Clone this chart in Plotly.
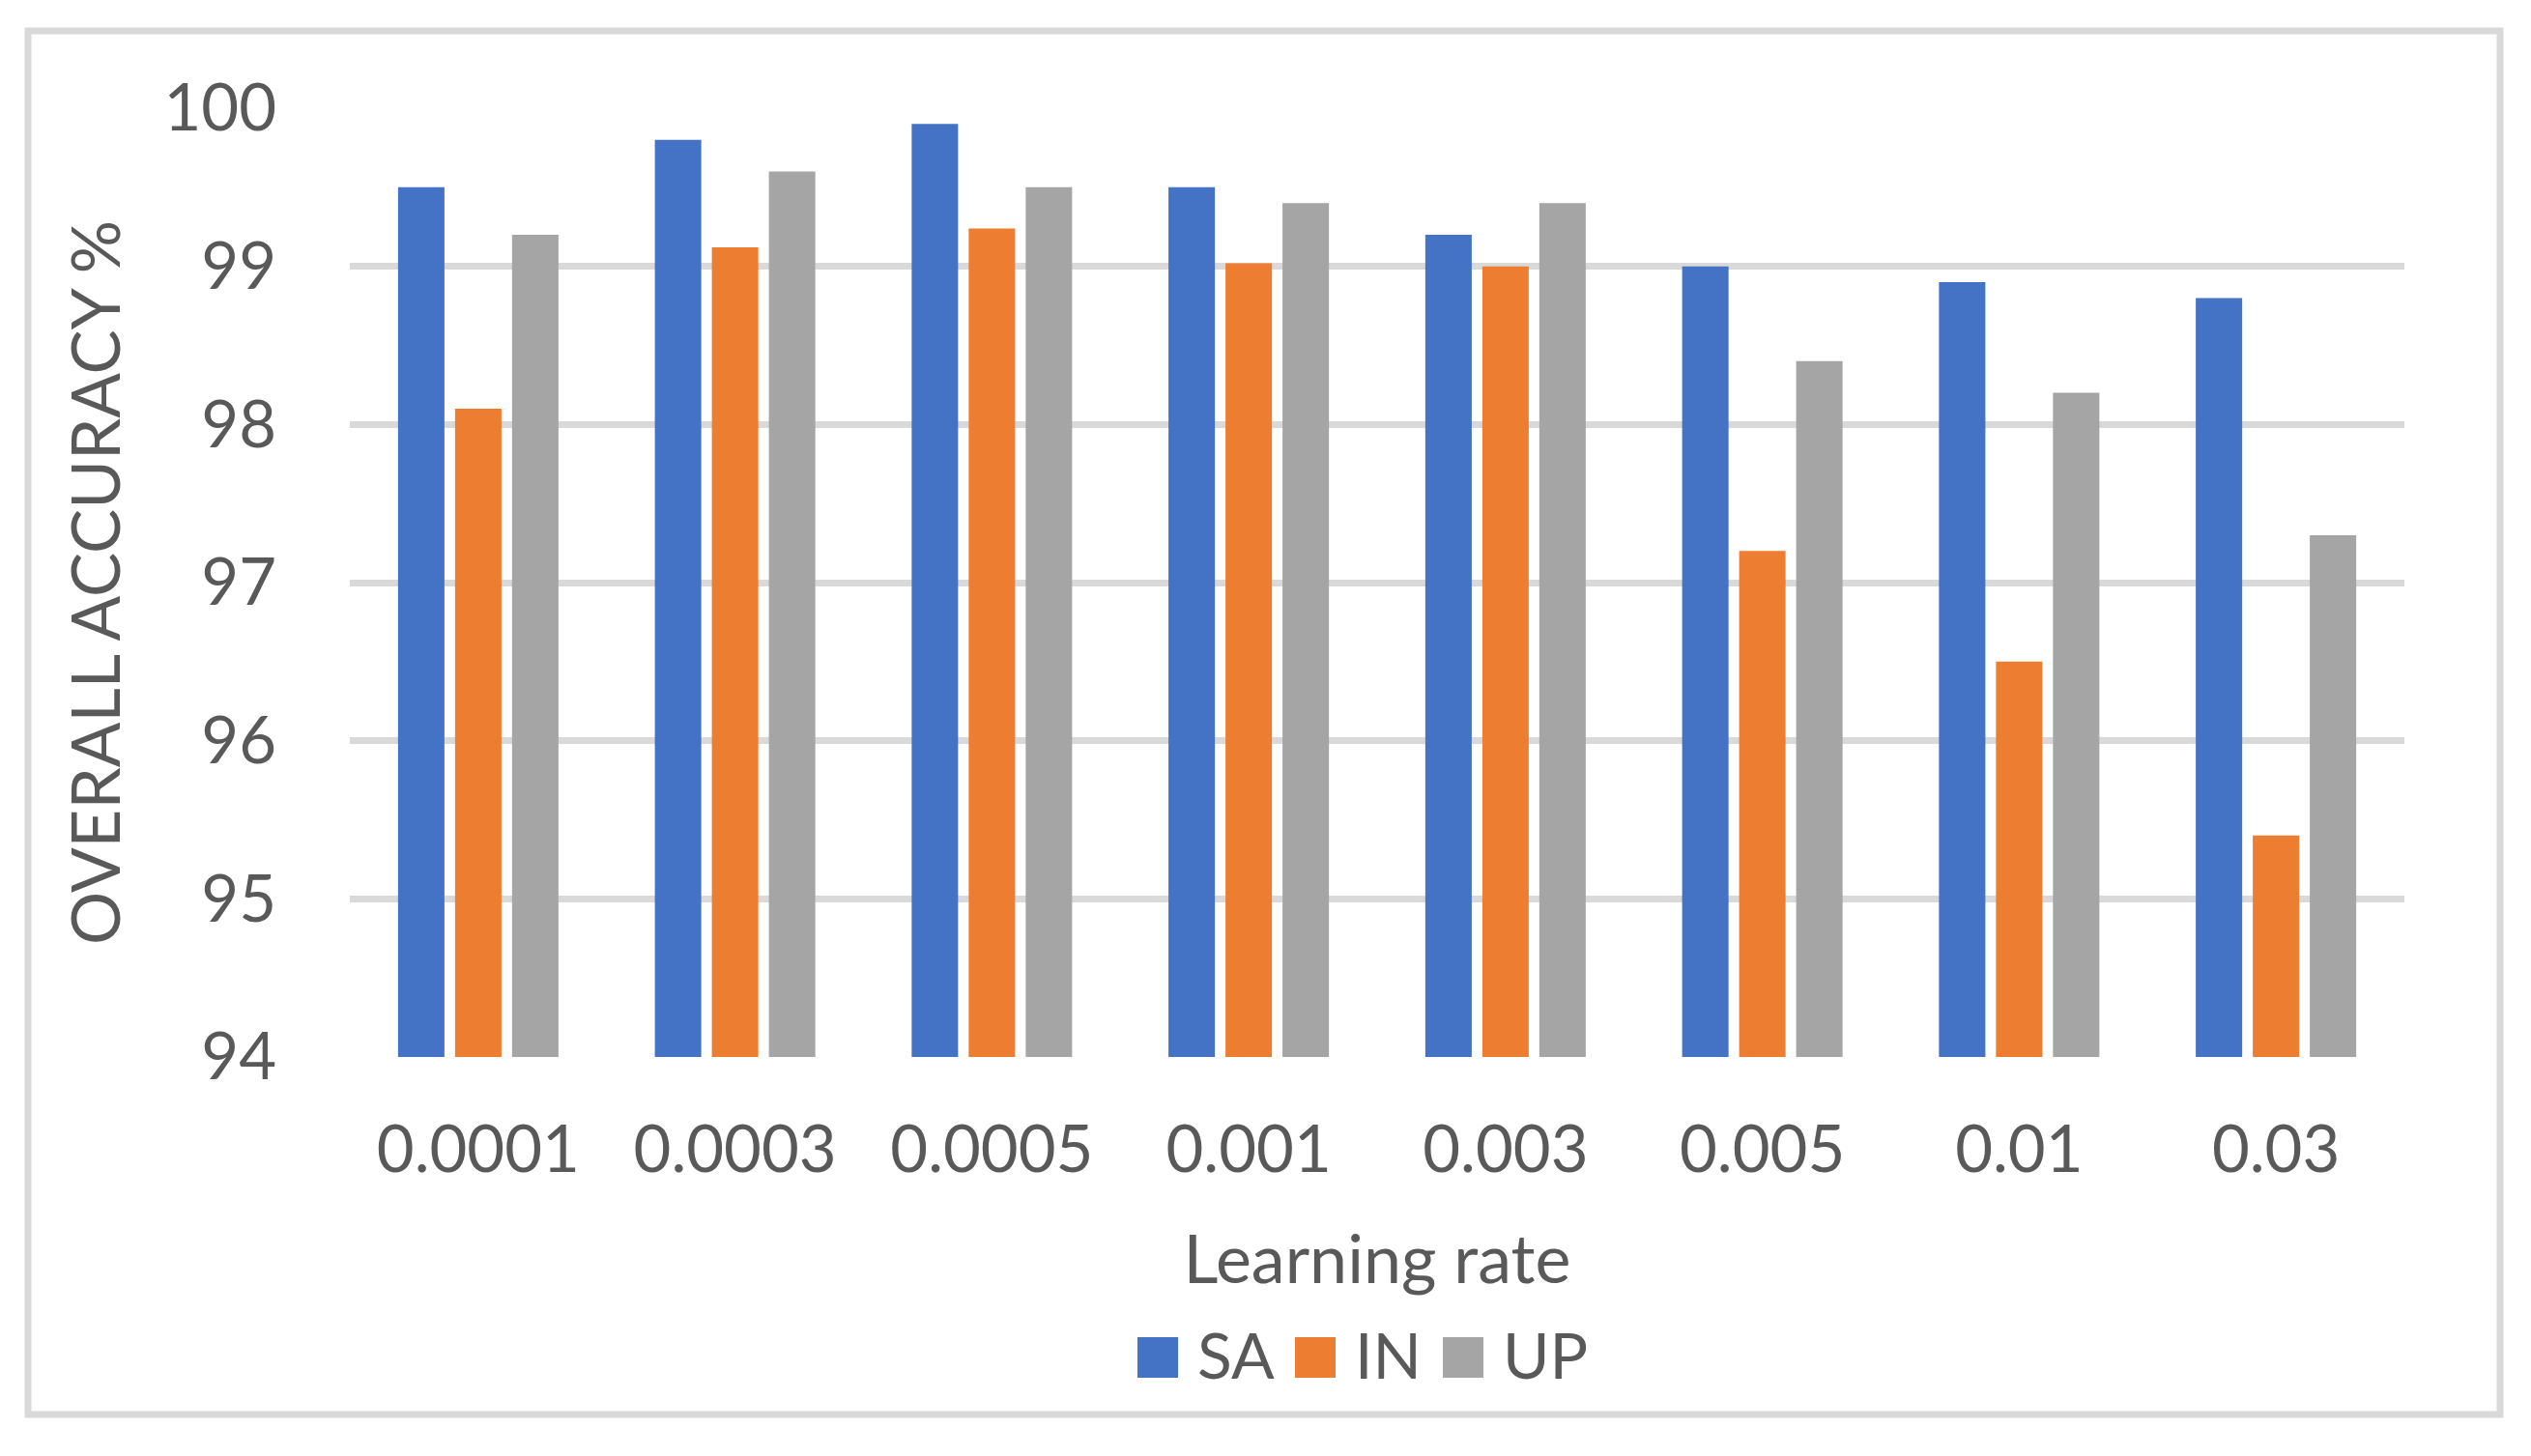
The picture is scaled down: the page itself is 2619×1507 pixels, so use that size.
import plotly.graph_objects as go

learning_rates = ["0.0001", "0.0003", "0.0005", "0.001", "0.003", "0.005", "0.01", "0.03"]
sa_values = [99.5, 99.8, 99.9, 99.5, 99.2, 99.0, 98.9, 98.8]
in_values = [98.1, 99.12, 99.24, 99.02, 99.0, 97.2, 96.5, 95.4]
up_values = [99.2, 99.6, 99.5, 99.4, 99.4, 98.4, 98.2, 97.3]
series_names = ["SA", "IN", "UP"]
series_colors = ["#4472C4", "#ED7D31", "#A5A5A5"]
y_ticks = [94, 95, 96, 97, 98, 99, 100]

FONT = "Lato, 'Open Sans', sans-serif"
TXT = "#595959"
GRID = "#D9D9D9"

# page has an 8px body margin; figure is sized so it ends at the window edge
OFF = 8
W, H = 2619 - OFF, 1507 - OFF
L, R, T, B = 362 - OFF, 131, 112 - OFF, 413
pw, ph = W - L - R, H - T - B

def px2x(p):  # page pixel -> paper x
    return (p - OFF - L) / pw

def px2y(p):  # page pixel -> paper y
    return (H - B - (p - OFF)) / ph

fig = go.Figure()
for name, vals, col in zip(series_names, [sa_values, in_values, up_values], series_colors):
    fig.add_trace(go.Bar(name=name, x=learning_rates, y=vals,
                         marker=dict(color=col, line=dict(width=0)), showlegend=False))

# legend (square swatches + labels), built from the series lists
legend_left = [1177, 1340, 1493]
SW = 42
shapes = [dict(type="rect", xref="paper", yref="paper",
               x0=px2x(29), x1=px2x(2587), y0=px2y(1464), y1=px2y(32),
               line=dict(color=GRID, width=7), fillcolor="rgba(0,0,0,0)", layer="below")]
annotations = []
for name, col, lx in zip(series_names, series_colors, legend_left):
    shapes.append(dict(type="rect", xref="paper", yref="paper",
                       x0=px2x(lx), x1=px2x(lx + SW), y0=px2y(1426), y1=px2y(1384),
                       line=dict(width=0), fillcolor=col))
    annotations.append(dict(text=name, xref="paper", yref="paper", x=px2x(lx + SW + 18), y=px2y(1401),
                            xanchor="left", yanchor="middle", showarrow=False,
                            font=dict(size=66, color=TXT, family=FONT)))

fig.update_layout(
    width=W, height=H,
    margin=dict(l=L, r=R, t=T, b=B, autoexpand=False),
    paper_bgcolor="white", plot_bgcolor="white",
    barmode="group", bargap=0.334, bargroupgap=0.186,
    font=dict(family=FONT, color=TXT, size=66),
    showlegend=False,
    xaxis=dict(type="category", categoryorder="array", categoryarray=learning_rates,
               showgrid=False, showline=False, zeroline=False, ticks="",
               tickfont=dict(size=67, color=TXT, family=FONT), ticklabelstandoff=51,
               title=dict(text="Learning rate", font=dict(size=70, color=TXT, family=FONT), standoff=52),
               automargin=False),
    yaxis=dict(range=[94, 100], tickvals=y_ticks, showgrid=True, gridcolor=GRID, gridwidth=7,
               showline=False, zeroline=False, ticks="",
               tickfont=dict(size=67, color=TXT, family=FONT), ticklabelstandoff=75,
               title=dict(text="OVERALL ACCURACY %", font=dict(size=69, color=TXT, family=FONT), standoff=22),
               automargin=False),
    shapes=shapes,
    annotations=annotations,
)

fig.write_html("out.html")
